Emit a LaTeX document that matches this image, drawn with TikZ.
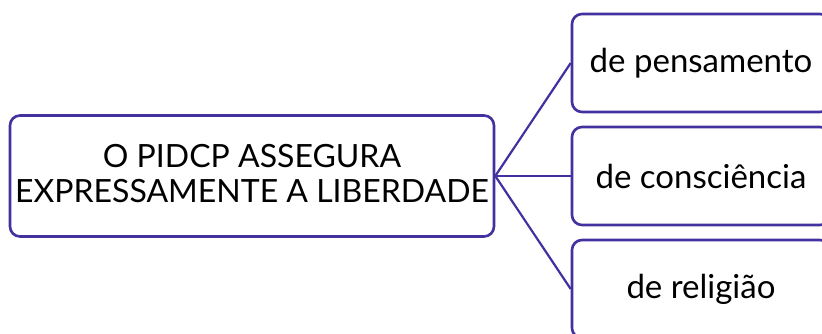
\documentclass[tikz,border=0pt]{standalone}
\usepackage{fontspec}
\setmainfont{Lato}
\definecolor{boxline}{HTML}{4232A0}
\begin{document}
\begin{tikzpicture}[x=1pt,y=-1pt,
  box/.style={draw=boxline,line width=2.6pt,rounded corners=10pt,fill=white,inner sep=0pt},
  link/.style={draw=boxline,line width=2.2pt},
  rtxt/.style={font=\fontsize{32}{35}\selectfont,align=center,text=black},
  txt/.style={font=\fontsize{33}{37}\selectfont,align=center,text=black}]
\useasboundingbox (0,0) rectangle (822,334);
\clip (0,0) rectangle (822,334);
\node[box,minimum width=484pt,minimum height=121pt] (root) at (252,176) {};
\node[rtxt] (roottxt) at (252,174) {O PIDCP ASSEGURA\\EXPRESSAMENTE A LIBERDADE};
\node[box,minimum width=258pt,minimum height=98pt] (a) at (701,63) {};
\node[box,minimum width=258pt,minimum height=98pt] (b) at (701,176) {};
\node[box,minimum width=258pt,minimum height=98pt] (c) at (701,289) {};
\node[txt] at (a) {de pensamento};
\node[txt] at (b) {de consciência};
\node[txt] at (c) {de religião};
\draw[link] (root.east) -- (a.west);
\draw[link] (root.east) -- (b.west);
\draw[link] (root.east) -- (c.west);
\end{tikzpicture}
\end{document}
